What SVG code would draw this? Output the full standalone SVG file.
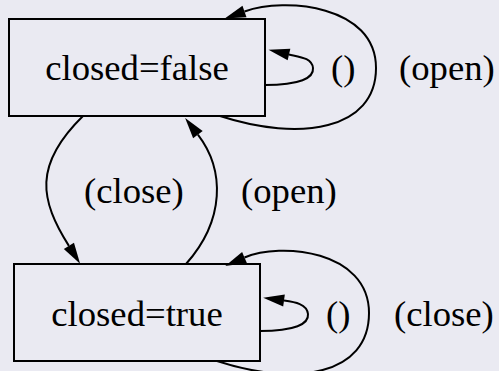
<svg xmlns="http://www.w3.org/2000/svg" width="499" height="371" viewBox="0 0 499 371">
<defs>
<marker id="arr" markerUnits="userSpaceOnUse" markerWidth="22" markerHeight="12" refX="0" refY="6" orient="auto" overflow="visible">
<path d="M0,0 L21,6 L0,12 z" fill="#000"/>
</marker>
</defs>
<style>
.node rect{fill:none;stroke:#000;stroke-width:2}
.nl{text-anchor:middle}
.edge path{fill:none;stroke:#000;stroke-width:2;marker-end:url(#arr)}
</style>
<rect width="499" height="371" fill="#eaeaf2"/>
<g font-family="'Liberation Serif', 'Times New Roman', 'DejaVu Serif', serif" font-size="36.7" fill="#000">
<g id="node-false" class="node">
<rect x="9" y="19" width="256" height="97"/>
<text class="nl" x="137" y="80">closed=false</text>
</g>
<g id="node-true" class="node">
<rect x="14" y="264" width="246" height="97"/>
<text class="nl" x="137" y="326">closed=true</text>
</g>
<g id="connectors" class="edge">
<path d="M265,85 C300,85 314,78 313,68 C312,58 300,57 289,54.5"/>
<path d="M220,116 C300,142 376,130 376,68 C376,5 285,-3 244.5,11.5"/>
<path d="M83,116 C33,165 40,200 68.9,245.9"/>
<path d="M186,264 C225,220 225,170 197.9,134.6"/>
<path d="M260,331 C295,331 309,324 308,314 C307,304 295,302 284,300.5"/>
<path d="M217,361 C296,387 369,375 369,313 C369,250 280,242 244.5,257.5"/>
</g>
<g id="labels">
<text x="331" y="80">()</text>
<text x="399" y="80">(open)</text>
<text x="84" y="203">(close)</text>
<text x="241" y="203">(open)</text>
<text x="326" y="326">()</text>
<text x="394" y="326">(close)</text>
</g>
</g>
</svg>
